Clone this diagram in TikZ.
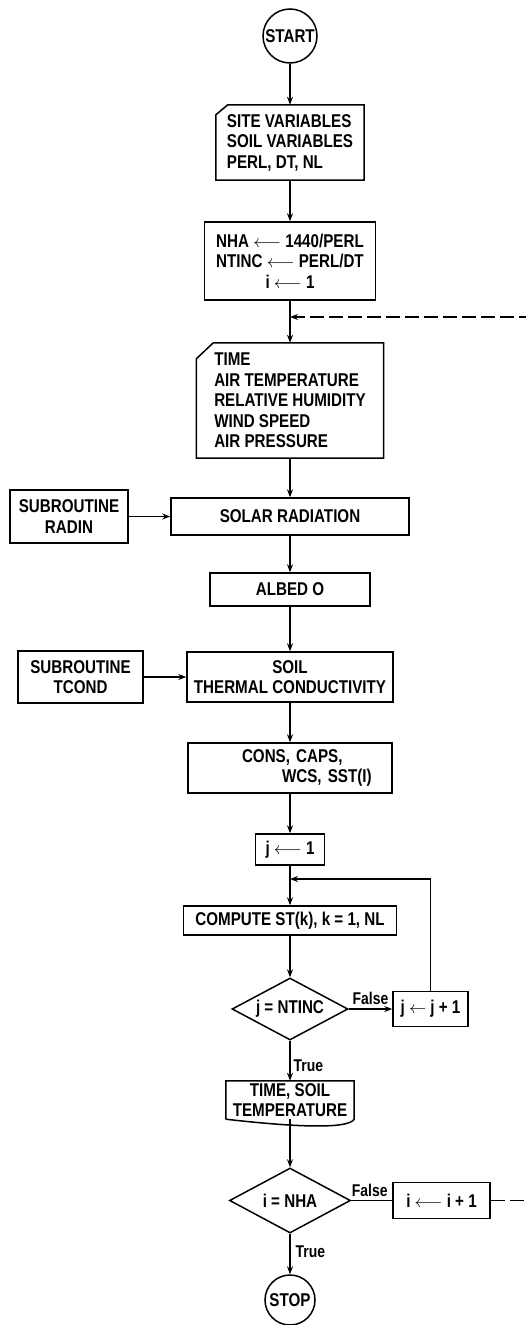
\documentclass[tikz,border=0pt]{standalone}
\usepackage{fontspec}
\setmainfont{Liberation Sans}[FakeStretch=0.82]
\usetikzlibrary{shapes.geometric,arrows.meta,calc}
\begin{document}
\begin{tikzpicture}[x=1pt,y=-1pt,
  every node/.style={font=\fontsize{18.5}{20.5}\selectfont\bfseries, inner sep=0pt},
  box/.style={draw, line width=1.5pt, rectangle, align=center},
  plain/.style={rectangle, align=center},
  terminal/.style={draw, line width=1.5pt, circle},
  decision/.style={draw, line width=1.5pt, diamond, aspect=1.87},
  outline/.style={line width=1.5pt, line join=miter},
  conn/.style={line width=1.2pt},
  arr/.style={conn, -{Stealth[length=8pt,width=6pt]}},
  lbl/.style={font=\fontsize{17}{19}\selectfont\bfseries}
]
\useasboundingbox (0,0) rectangle (525,1325);

% nodes
\node[terminal, minimum size=54pt] (start) at (290,36) {START};
\node[plain, minimum width=148pt, minimum height=75pt, align=left] (b1) at (290,142.5)
  {SITE VARIABLES\\SOIL VARIABLES\\PERL, DT, NL};
\node[box, minimum width=171pt, minimum height=78pt] (b2) at (290,261)
  {NHA $\longleftarrow$ 1440/PERL\\NTINC $\longleftarrow$ PERL/DT\\i $\longleftarrow$ 1};
\node[plain, minimum width=187pt, minimum height=115pt, align=left] (b3) at (290,400.5)
  {TIME\\AIR TEMPERATURE\\RELATIVE HUMIDITY\\WIND SPEED\\AIR PRESSURE};
\node[box, minimum width=238pt, minimum height=37pt] (solar) at (290,516.5) {SOLAR RADIATION};
\node[box, minimum width=118pt, minimum height=53pt] (radin) at (69,516.5) {SUBROUTINE\\RADIN};
\node[box, minimum width=160pt, minimum height=33pt] (albedo) at (290,589.5) {ALBED O};
\node[box, minimum width=206pt, minimum height=50pt] (soil) at (290,677) {SOIL\\THERMAL CONDUCTIVITY};
\node[box, minimum width=125pt, minimum height=52pt] (tcond) at (80.5,677) {SUBROUTINE\\TCOND};
\node[box, text width=204pt, minimum height=50pt, align=left] (cons) at (290,768)
  {\hspace*{54pt}CONS, CAPS,\\\hspace*{94pt}WCS, SST(I)};
\node[box, minimum width=69pt, minimum height=31pt] (j1) at (290,849.5) {j $\longleftarrow$ 1};
\node[box, minimum width=213pt, minimum height=29pt] (compute) at (290,920.5) {COMPUTE ST(k), k = 1, NL};
\node[decision, minimum width=116pt, minimum height=62pt] (d1) at (290,1009) {j = NTINC};
\node[box, minimum width=75pt, minimum height=35pt] (jinc) at (430.5,1009) {j $\leftarrow$ j + 1};
\node[plain, minimum width=128pt, minimum height=38pt] (ts) at (290,1100) {TIME, SOIL\\TEMPERATURE};
\node[decision, minimum width=121pt, minimum height=65pt] (d2) at (290,1200.5) {i = NHA};
\node[box, minimum width=97pt, minimum height=36pt] (iinc) at (441.5,1200.5) {i $\longleftarrow$ i + 1};
\node[terminal, minimum size=50pt] (stop) at (290,1300) {STOP};

% custom outlines
\draw[outline] ($(b1.north west)+(0,10)$) -- ($(b1.north west)+(12,0)$) -- (b1.north east)
  -- (b1.south east) -- (b1.south west) -- cycle;
\draw[outline] ($(b3.north west)+(0,16)$) -- ($(b3.north west)+(17,0)$) -- (b3.north east)
  -- (b3.south east) -- (b3.south west) -- cycle;
\draw[outline] (ts.south west) -- (ts.north west) -- (ts.north east) -- (ts.south east)
  .. controls ($(ts.south east)+(-6,10)$) and ($(ts.south west)+(70,8)$) .. (ts.south west);

% coordinates for loop junctions
\coordinate (lp1) at (290,879);
\coordinate (lp2) at (290,317);
\coordinate (c1) at (545,1200.5);
\coordinate (c2) at (545,317);

% connectors
\draw[arr] (start) -- (b1);
\draw[arr] (b1) -- (b2);
\draw[arr] (b2) -- (b3);
\draw[arr] (b3) -- (solar);
\draw[arr] (radin) -- (solar);
\draw[arr] (solar) -- (albedo);
\draw[arr] (albedo) -- (soil);
\draw[arr] (tcond) -- (soil);
\draw[arr] (soil) -- (cons);
\draw[arr] (cons) -- (j1);
\draw[arr] (j1) -- (compute);
\draw[arr] (compute) -- (d1);
\draw[arr] (d1) -- node[lbl, above=4pt] {False} (jinc);
\draw[arr] (jinc.north) |- (lp1);
\draw[arr] (d1) -- node[lbl, right=3pt, pos=0.62] {True} (ts);
\draw[arr] (ts) -- (d2);
\draw[conn] (d2) -- node[lbl, above=3pt, pos=0.45] {False} (iinc);
\draw[arr, dash pattern=on 14pt off 5pt] (iinc.east) -- (c1) -- (c2) -- (lp2);
\draw[arr] (d2) -- node[lbl, right=5pt, pos=0.45] {True} (stop);
\end{tikzpicture}
\end{document}
